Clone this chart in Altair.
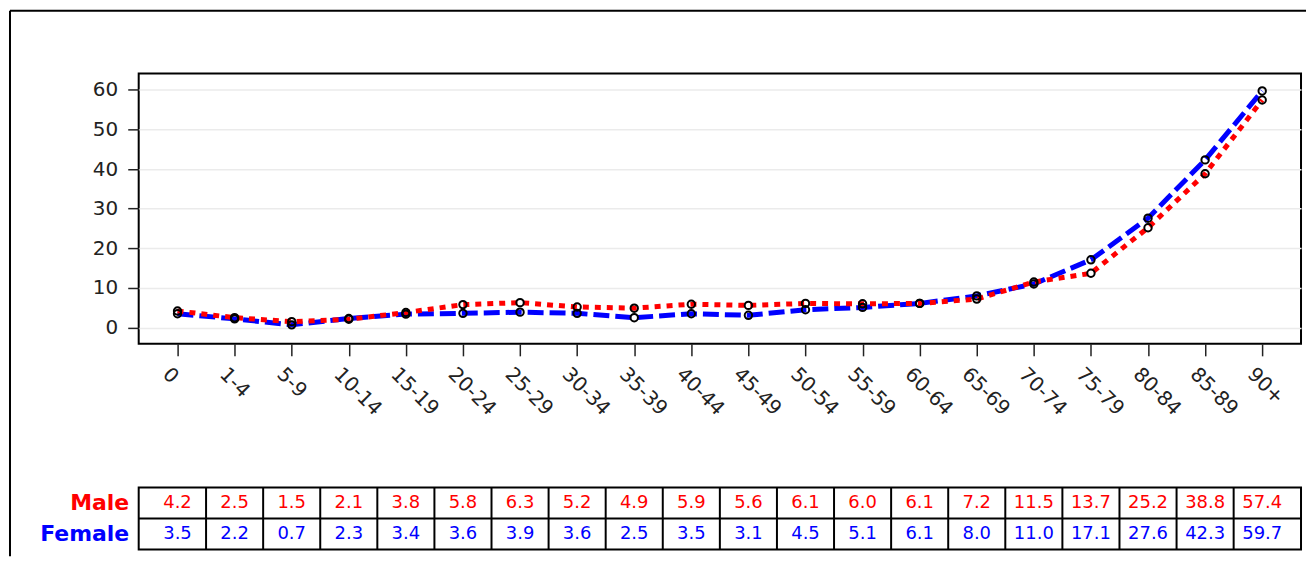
import altair as alt
import pandas as pd

ages = ["0", "1-4", "5-9", "10-14", "15-19", "20-24", "25-29", "30-34", "35-39",
        "40-44", "45-49", "50-54", "55-59", "60-64", "65-69", "70-74", "75-79",
        "80-84", "85-89", "90+"]
male = [4.2, 2.5, 1.5, 2.1, 3.8, 5.8, 6.3, 5.2, 4.9, 5.9, 5.6, 6.1, 6.0, 6.1,
        7.2, 11.5, 13.7, 25.2, 38.8, 57.4]
female = [3.5, 2.2, 0.7, 2.3, 3.4, 3.6, 3.9, 3.6, 2.5, 3.5, 3.1, 4.5, 5.1, 6.1,
          8.0, 11.0, 17.1, 27.6, 42.3, 59.7]
sexes = ["Male", "Female"]
sex_colors = ["#FF0000", "#0000FF"]
y_ticks = [0, 10, 20, 30, 40, 50, 60]

rows = []
for a, m, f in zip(ages, male, female):
    rows.append({"age": a, "sex": "Male", "value": m})
    rows.append({"age": a, "sex": "Female", "value": f})
df = pd.DataFrame(rows)
one = pd.DataFrame({"k": [0]})

FONT = "DejaVu Sans"
W = 1165

x_main = alt.X("age:N", sort=ages,
               scale=alt.Scale(type="point", padding=0.68),
               axis=alt.Axis(title=None, tickSize=12, tickColor="#222", tickWidth=1.5,
                             labelAngle=45, labelAlign="left", labelBaseline="top",
                             labelPadding=8, labelOffset=-5, labelFontSize=20,
                             labelFont=FONT, labelColor="#222", domain=False,
                             grid=False))
y_main = alt.Y("value:Q",
               scale=alt.Scale(domain=[-4.1, 64.1], nice=False, zero=False),
               axis=alt.Axis(title=None, values=y_ticks, tickSize=11, tickColor="#222",
                             tickWidth=1.5, labelPadding=10, labelFontSize=20,
                             labelFont=FONT, labelColor="#222", domain=False,
                             grid=True, gridColor="#ebebeb", gridWidth=1.5))

base = alt.Chart(df).encode(x=x_main, y=y_main)

blue_line = base.transform_filter("datum.sex == 'Female'").mark_line(
    color="#0000FF", strokeWidth=5, strokeDash=[16, 6])
red_line = base.transform_filter("datum.sex == 'Male'").mark_line(
    color="#FF0000", strokeWidth=5, strokeDash=[6, 6])
points = base.mark_point(shape="circle", filled=False, stroke="black",
                         strokeWidth=2, size=55, opacity=1)

frame_left = alt.Chart(one).mark_rule(color="black", strokeWidth=2).encode(
    x=alt.value(-129), y=alt.value(-63), y2=alt.value(484))
frame_top = alt.Chart(one).mark_rule(color="black", strokeWidth=2).encode(
    x=alt.value(-129), x2=alt.value(1170), y=alt.value(-63))

main = alt.layer(blue_line, red_line, points, frame_left, frame_top).properties(
    width=W, height=271)

# table
x_tab = alt.X("age:N", sort=ages,
              scale=alt.Scale(type="band", paddingInner=0, paddingOuter=0.18),
              axis=None)
y_tab = alt.Y("sex:N", sort=sexes,
              scale=alt.Scale(paddingInner=0, paddingOuter=0),
              axis=alt.Axis(title=None, ticks=False, domain=False, labelPadding=10,
                            labelFontSize=22, labelFont=FONT, labelFontWeight="bold",
                            labelColor={"condition": {"test": "datum.value == 'Male'",
                                                      "value": "#FF0000"},
                                        "value": "#0000FF"}))

tab_text = alt.Chart(df).mark_text(font=FONT, fontSize=18).encode(
    x=x_tab, y=y_tab,
    text=alt.Text("value:Q", format=".1f"),
    color=alt.Color("sex:N", scale=alt.Scale(domain=sexes, range=sex_colors),
                    legend=None))
vrules = alt.Chart(df).transform_filter(
    "datum.sex == 'Male' && datum.age != '0'").mark_rule(
    color="black", strokeWidth=2).encode(
    x=alt.X("age:N", sort=ages, bandPosition=0,
            scale=alt.Scale(type="band", paddingInner=0, paddingOuter=0.18),
            axis=None))
hrule = alt.Chart(df).transform_filter(
    "datum.sex == 'Female' && datum.age == '0'").mark_rule(
    color="black", strokeWidth=2).encode(
    y=alt.Y("sex:N", sort=sexes, bandPosition=0,
            scale=alt.Scale(paddingInner=0, paddingOuter=0)))

table = alt.layer(tab_text, vrules, hrule).properties(width=W, height=62)

chart = alt.vconcat(main, table, spacing=144, bounds="flush").properties(
    padding=0, background="white"
).configure_view(stroke="black", strokeWidth=2)

chart.save("out.html", embed_options={"renderer": "svg", "actions": False})
